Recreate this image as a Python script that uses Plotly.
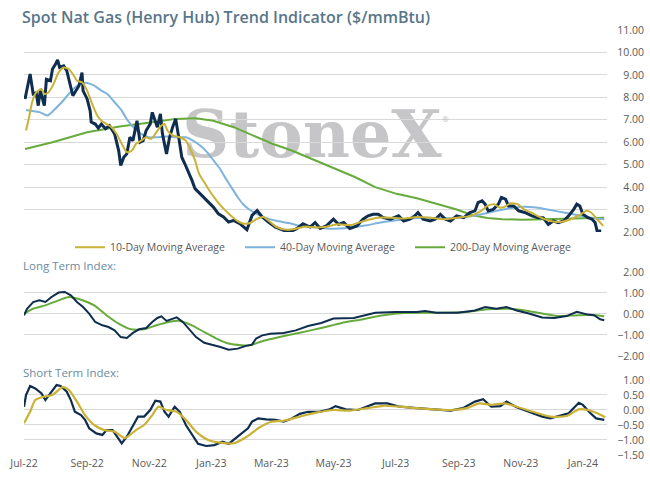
import pandas as pd
import plotly.graph_objects as go

START = pd.Timestamp("2022-07-01")

# ---- Spot price (day offset from 2022-07-01, $/mmBtu)
spot_day = [1,6,9,12,14,16,20,22,26,28,31,33,35,39,42,45,48,52,54,57,58,62,65,66,70,73,76,80,84,89,93,95,98,101,104,107,111,114,117,120,124,126,129,131,134,136,140,143,146,149,152,155,158,161,165,168,173,176,181,186,191,196,201,206,212,219,224,229,234,240,247,255,261,268,274,281,286,291,297,304,309,314,320,327,333,338,343,348,353,360,368,373,379,384,387,392,399,404,409,414,419,425,432,438,443,446,450,453,456,461,466,469,473,476,481,486,492,499,505,510,515,520,525,530,535,540,543,546,549,554,558,561,563,567]
spot_val = [7.93,9.04,8.15,8.2,7.63,8.3,7.63,8.8,8.74,9.26,9.48,9.67,9.33,9.4,9.19,8.6,8.07,8.37,8.52,9.1,8.3,7.93,7.4,6.9,6.81,6.63,6.81,6.6,6.74,6.37,5.63,4.96,5.33,5.48,6.22,6.07,6.96,6.0,6.07,6.52,6.81,7.33,6.89,6.67,7.26,6.37,5.48,6.22,6.67,7.04,6.22,5.33,5.04,4.74,4.3,3.93,3.7,3.56,3.33,3.11,2.81,2.67,2.44,2.52,2.37,2.1,2.74,2.96,2.67,2.44,2.22,2.07,2.0,2.15,2.37,2.22,2.42,2.16,2.27,2.57,2.34,2.42,2.16,2.27,2.57,2.72,2.79,2.79,2.64,2.57,2.72,2.49,2.57,2.72,2.87,2.57,2.49,2.57,2.79,2.57,2.49,2.72,2.64,2.87,2.94,3.31,3.39,3.24,2.94,3.01,3.24,3.54,3.46,3.16,3.16,2.94,2.87,2.72,2.64,2.64,2.34,2.49,2.42,2.49,2.72,3.01,3.24,3.16,2.79,2.64,2.57,2.42,2.04,2.04]

# ---- 10-day moving average
ma10_day = [2,5,8,12,17,20,24,29,34,39,44,49,52,57,62,67,72,76,81,86,91,96,101,106,110,115,120,125,130,135,138,141,146,153,159,164,168,172,178,183,189,196,203,209,216,222,229,235,242,248,258,267,277,281,295,308,321,334,347,360,373,386,399,412,426,439,449,455,462,467,472,478,485,491,498,508,517,527,537,547,552,557,563,569]
ma10_val = [6.52,7.11,7.78,8.22,8.37,8.15,8.22,8.59,9.11,9.33,9.26,8.96,8.74,8.67,8.3,7.7,7.19,6.96,6.81,6.67,6.37,5.93,5.56,5.63,5.93,6.07,6.22,6.15,6.44,6.74,6.81,6.52,6.3,6.22,6.07,5.63,5.19,4.59,4.15,3.78,3.41,3.04,2.74,2.52,2.37,2.4,2.59,2.67,2.44,2.22,2.1,2.15,2.25,2.22,2.22,2.34,2.31,2.49,2.64,2.64,2.6,2.67,2.64,2.57,2.64,2.72,2.94,3.16,3.24,3.09,3.12,3.28,3.24,3.01,2.87,2.64,2.49,2.45,2.57,2.79,2.94,2.87,2.57,2.27]

# ---- 40-day moving average
ma40_day = [2,10,16,23,29,37,44,50,57,62,69,76,82,89,96,102,109,115,122,130,140,150,159,166,173,180,186,192,198,205,210,215,222,229,238,248,260,268,280,288,301,315,325,337,350,362,380,395,410,425,437,457,477,490,503,516,530,544,557,570]
ma40_val = [7.44,7.38,7.33,7.19,7.41,7.78,8.15,8.44,8.62,8.64,8.52,8.3,8.15,7.78,7.41,6.96,6.59,6.37,6.22,6.22,6.25,6.22,6.22,6.07,5.85,5.55,5.2,4.85,4.4,3.9,3.55,3.25,2.98,2.8,2.62,2.5,2.4,2.3,2.22,2.2,2.15,2.17,2.22,2.3,2.42,2.5,2.6,2.63,2.62,2.62,2.69,2.87,3.06,3.12,3.09,2.99,2.87,2.75,2.64,2.57]

# ---- 200-day moving average
ma200_day = [1,28,62,94,126,149,169,186,206,225,244,263,285,304,325,345,366,386,405,425,440,455,470,490,510,530,550,570]
ma200_val = [5.7,6.0,6.44,6.7,6.89,7.04,7.07,6.96,6.67,6.3,5.93,5.63,5.2,4.85,4.45,4.0,3.7,3.5,3.25,3.0,2.76,2.62,2.57,2.55,2.57,2.6,2.63,2.64]

# ---- Long term index
lt_day = [0,3,9,15,21,27,34,40,46,52,58,64,70,77,83,89,95,101,107,113,120,126,131,135,140,146,150,156,163,169,177,185,193,201,210,218,224,228,234,242,255,267,279,292,304,324,345,365,386,394,405,426,443,453,464,474,484,496,509,521,533,543,554,560,566,570]
lt_val = [-0.06,0.25,0.57,0.65,0.57,0.81,1.02,1.05,0.89,0.57,0.33,0.02,-0.38,-0.54,-0.62,-0.78,-1.1,-1.14,-0.9,-0.73,-0.67,-0.38,-0.19,-0.11,-0.33,-0.25,-0.16,-0.38,-0.78,-1.1,-1.37,-1.46,-1.57,-1.7,-1.65,-1.52,-1.46,-1.17,-1.02,-0.94,-0.9,-0.78,-0.57,-0.43,-0.22,-0.19,0.06,0.1,0.1,0.14,0.06,0.06,0.17,0.33,0.25,0.33,0.17,0.02,-0.17,-0.19,-0.1,0.1,-0.03,-0.06,-0.25,-0.3]
lt_sig_day = [0,9,21,34,44,56,69,81,93,105,118,130,142,152,165,177,189,201,214,222,234,251,271,292,312,333,353,374,406,435,455,476,492,509,525,545,562,570]
lt_sig_val = [0.02,0.25,0.41,0.65,0.81,0.68,0.41,-0.06,-0.46,-0.73,-0.73,-0.54,-0.38,-0.32,-0.54,-0.86,-1.17,-1.41,-1.49,-1.49,-1.3,-1.1,-0.89,-0.67,-0.43,-0.25,-0.06,0.05,0.06,0.1,0.22,0.25,0.17,0.02,-0.1,-0.06,-0.06,-0.11]

# ---- Short term index
st_day = [0,2,6,11,17,21,26,32,36,42,46,50,56,60,64,71,77,81,87,93,96,101,107,112,118,124,129,134,138,142,148,153,159,165,171,179,187,195,201,208,214,220,224,230,238,247,255,263,271,279,290,300,306,316,328,337,345,357,369,386,402,419,431,443,451,459,468,474,484,496,509,517,529,535,545,549,556,562,570]
st_val = [0.11,0.5,0.8,0.72,0.56,0.33,0.56,0.83,0.8,0.61,0.33,-0.06,-0.17,-0.33,-0.61,-0.78,-0.83,-0.67,-0.67,-0.94,-1.11,-0.89,-0.5,-0.22,-0.22,0.0,0.31,0.28,-0.06,-0.22,0.11,-0.06,-0.5,-0.83,-1.13,-1.2,-1.17,-1.06,-1.13,-0.94,-0.78,-0.61,-0.39,-0.28,-0.31,-0.33,-0.39,-0.28,-0.13,-0.06,-0.06,0.02,0.13,0.02,0.0,0.11,0.22,0.22,0.11,0.06,0.02,-0.02,0.06,0.28,0.36,0.11,0.13,0.28,0.09,-0.06,-0.22,-0.28,-0.17,-0.11,0.24,0.17,-0.09,-0.28,-0.33]
st_sig_day = [0,6,11,19,28,38,44,52,60,69,79,89,99,110,118,126,132,140,150,159,169,181,193,206,218,230,243,255,271,287,304,320,337,353,369,386,402,419,435,447,459,472,484,500,517,533,545,554,562,571]
st_sig_val = [-0.44,-0.06,0.33,0.44,0.5,0.76,0.67,0.28,-0.17,-0.5,-0.67,-0.72,-0.94,-0.67,-0.5,-0.17,0.11,0.0,-0.06,-0.33,-0.72,-1.0,-1.09,-1.11,-0.91,-0.61,-0.39,-0.36,-0.22,-0.09,0.0,-0.02,0.06,0.14,0.11,0.06,0.02,0.0,0.06,0.22,0.17,0.22,0.11,-0.06,-0.22,-0.2,0.02,0.0,-0.09,-0.24]

legend_names = ["10-Day Moving Average", "40-Day Moving Average", "200-Day Moving Average"]
title_text = "Spot Nat Gas (Henry Hub) Trend Indicator ($/mmBtu)"


def to_dates(days):
    return [START + pd.Timedelta(days=d) for d in days]


NAVY = "#0f2d4f"
GOLD = "#c9b236"
BLUE = "#7db3dc"
GREEN = "#67ab3c"
GRID = "#d9d9d9"
TXT = "#595959"
FONT = "Open Sans"

ML, MR, MT, MB = 24, 6, 30, 26
PW = 650 - ML - MR  # paper width in px


def px(xpix):
    return (xpix - ML) / PW


fig = go.Figure()
fig.add_trace(go.Scatter(x=to_dates(ma200_day), y=ma200_val, name=legend_names[2], mode="lines",
                         line=dict(color=GREEN, width=2), xaxis="x", yaxis="y", legendrank=3))
fig.add_trace(go.Scatter(x=to_dates(ma40_day), y=ma40_val, name=legend_names[1], mode="lines",
                         line=dict(color=BLUE, width=2, shape="spline", smoothing=0.6), xaxis="x", yaxis="y", legendrank=2))
fig.add_trace(go.Scatter(x=to_dates(spot_day), y=spot_val, name="Spot", mode="lines", showlegend=False,
                         line=dict(color=NAVY, width=3), xaxis="x", yaxis="y"))
fig.add_trace(go.Scatter(x=to_dates(ma10_day), y=ma10_val, name=legend_names[0], mode="lines",
                         line=dict(color=GOLD, width=2, shape="spline", smoothing=0.6), xaxis="x", yaxis="y", legendrank=1))

fig.add_trace(go.Scatter(x=to_dates(lt_sig_day), y=lt_sig_val, mode="lines", showlegend=False,
                         line=dict(color=GREEN, width=2, shape="spline", smoothing=0.6), xaxis="x2", yaxis="y2"))
fig.add_trace(go.Scatter(x=to_dates(lt_day), y=lt_val, mode="lines", showlegend=False,
                         line=dict(color=NAVY, width=2), xaxis="x2", yaxis="y2"))

fig.add_trace(go.Scatter(x=to_dates(st_day), y=st_val, mode="lines", showlegend=False,
                         line=dict(color=NAVY, width=2.2), xaxis="x3", yaxis="y3"))
fig.add_trace(go.Scatter(x=to_dates(st_sig_day), y=st_sig_val, mode="lines", showlegend=False,
                         line=dict(color=GOLD, width=2.2, shape="spline", smoothing=0.6), xaxis="x3", yaxis="y3"))

xr = [START, START + pd.Timedelta(days=572.7)]
xdom = [0, px(607)]
common_x = dict(type="date", range=xr, domain=xdom, showgrid=False, zeroline=False,
                showline=False, ticks="", dtick="M2", tick0="2022-07-01", tickformat="%b-%y",
                tickfont=dict(size=10.5, color=TXT, family=FONT))
common_y = dict(anchor="free", position=1.0, side="left", showgrid=True, gridcolor=GRID,
                gridwidth=1, zeroline=False, showline=False, ticks="", tickformat=".2f",
                tickfont=dict(size=10.5, color=TXT, family=FONT))

fig.update_layout(
    width=650, height=481,
    margin=dict(l=ML, r=MR, t=MT, b=MB),
    paper_bgcolor="white", plot_bgcolor="white",
    font=dict(family=FONT, color=TXT),
    title=dict(text=title_text, x=22 / 650, xref="container", xanchor="left",
               y=1 - 17 / 481, yref="container", yanchor="middle",
               font=dict(size=16, color="#587689", family=FONT, weight=600)),
    xaxis=dict(common_x, anchor="y", showticklabels=False, matches="x3"),
    xaxis2=dict(common_x, anchor="y2", showticklabels=False, matches="x3"),
    xaxis3=dict(common_x, anchor="y3", showticklabels=True),
    yaxis=dict(common_y, domain=[0.5247, 1.0], range=[2, 11], dtick=1),
    yaxis2=dict(common_y, domain=[0.233, 0.4306], range=[-2, 2], dtick=1),
    yaxis3=dict(common_y, domain=[0, 0.1765], range=[-1.5, 1.0], dtick=0.5),
    showlegend=True,
    legend=dict(orientation="h", x=px(70), xanchor="left", y=0.489, yanchor="middle",
                entrywidth=125, entrywidthmode="pixels", traceorder="normal",
                font=dict(size=10.5, color=TXT, family=FONT), bgcolor="rgba(0,0,0,0)"),
    shapes=[dict(type="rect", xref="paper", yref="paper", x0=px(312) - 0.19, x1=px(312) + 0.19,
                 y0=0.70, y1=0.83, line=dict(width=0), fillcolor="rgba(0,0,0,0)", layer="below",
                 label=dict(text="StoneX", textposition="middle center",
                            font=dict(size=65, color="#c6c6c8", family="DejaVu Serif", weight="bold")))],
    annotations=[
        dict(text="®", xref="paper", yref="paper", x=px(451), y=0.81, showarrow=False,
             font=dict(size=8, color="#bdbdbd")),
        dict(text="Long Term Index:", xref="paper", yref="paper", x=px(21), y=0.447,
             xanchor="left", yanchor="middle", showarrow=False,
             font=dict(size=11.5, color="#6b8ba0", family=FONT)),
        dict(text="Short Term Index:", xref="paper", yref="paper", x=px(21), y=0.193,
             xanchor="left", yanchor="middle", showarrow=False,
             font=dict(size=11.5, color="#6b8ba0", family=FONT)),
    ],
)

fig.write_html("out.html", config={"displayModeBar": False},
               post_script="document.body.style.margin='0';")
